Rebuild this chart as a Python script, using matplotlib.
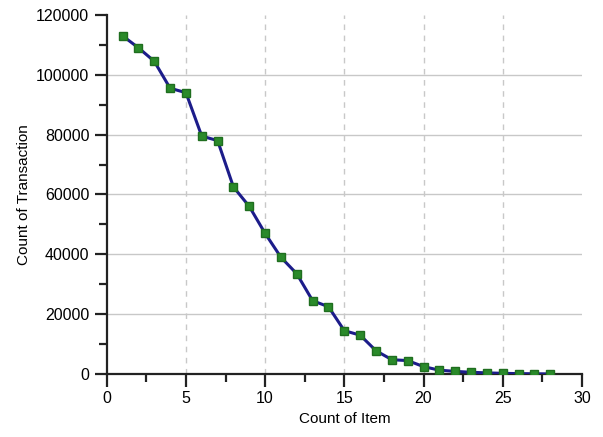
import numpy as np
import matplotlib.pyplot as plt
from matplotlib.ticker import MultipleLocator

plt.rcParams['font.family'] = ['Liberation Sans', 'DejaVu Sans']

items = [1, 2, 3, 4, 5, 6, 7, 8, 9, 10, 11, 12, 13, 14, 15, 16, 17, 18, 19, 20,
         21, 22, 23, 24, 25, 26, 27, 28]
transactions = [113000, 109000, 104500, 95500, 94000, 79500, 78000, 62500, 56000, 47000,
                39000, 33500, 24500, 22500, 14500, 13000, 7800, 4800, 4500, 2500,
                1300, 900, 600, 400, 250, 150, 100, 50]

fig = plt.figure(figsize=(6.03, 4.37), dpi=100)
ax = fig.add_axes([0.177, 0.144, 0.788, 0.822])

ax.plot(items, transactions, color='#1c1c8a', linewidth=2.2, marker='s', markersize=5.5,
        markerfacecolor='#2a8a2a', markeredgecolor='#1f6e1f', zorder=3)

ax.set_xlim(0, 30)
ax.set_ylim(0, 120000)
ax.xaxis.set_major_locator(MultipleLocator(5))
ax.xaxis.set_minor_locator(MultipleLocator(2.5))
ax.yaxis.set_major_locator(MultipleLocator(20000))
ax.yaxis.set_minor_locator(MultipleLocator(10000))

# grille : horizontale pleine, verticale en tirets
for v in range(20000, 120000, 20000):
    ax.axhline(v, color='#c8c8c8', linewidth=1, zorder=1)
for v in range(5, 30, 5):
    ax.axvline(v, color='#c8c8c8', linewidth=1, linestyle=(0, (4, 4)), zorder=1)

ax.spines['top'].set_visible(False)
ax.spines['right'].set_visible(False)
ax.spines['left'].set_linewidth(1.6)
ax.spines['bottom'].set_linewidth(1.6)
ax.spines['left'].set_color('#222222')
ax.spines['bottom'].set_color('#222222')
ax.tick_params(which='major', length=9, width=1.6, labelsize=11.5, color='#222222')
ax.tick_params(which='minor', length=6, width=1.6, color='#222222')

ax.set_xlabel('Count of Item', fontsize=11)
ax.set_ylabel('Count of Transaction', fontsize=11)

fig.savefig('out.png', dpi=100)
